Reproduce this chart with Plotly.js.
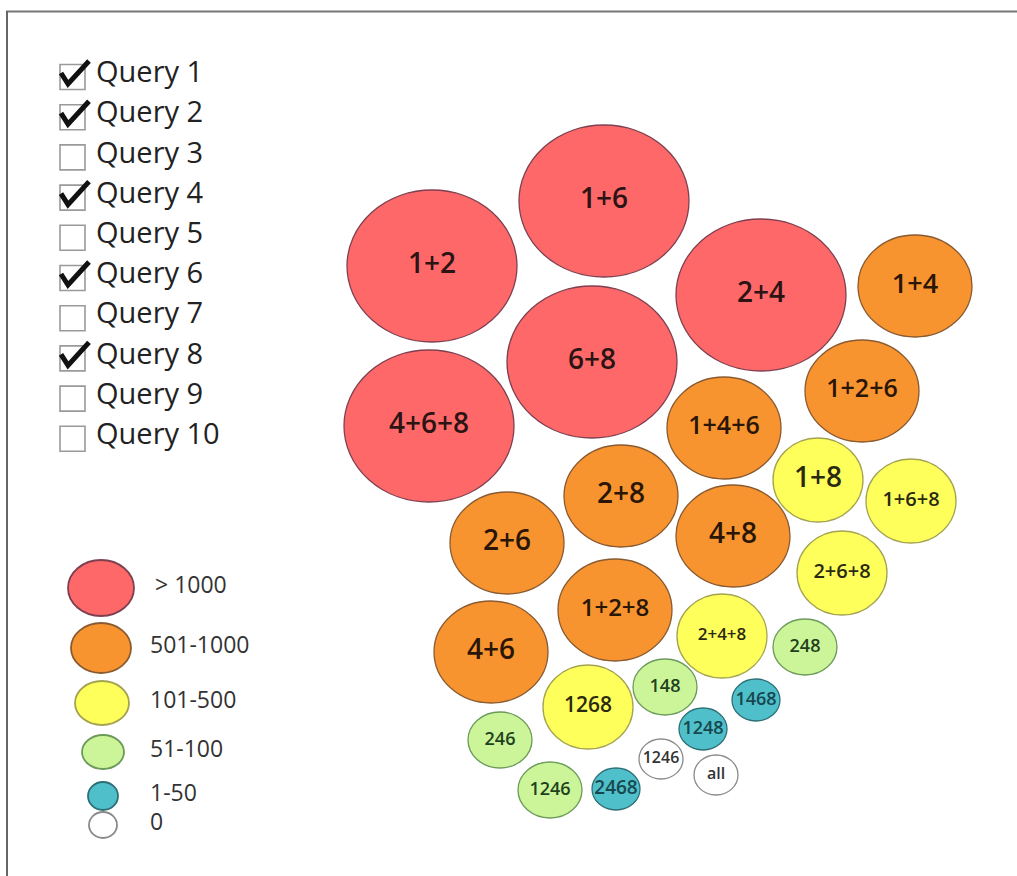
<!DOCTYPE html>
<html>
<head>
<meta charset="utf-8">
<script src="https://cdn.plot.ly/plotly-3.0.1.min.js"></script>
<style>
  html, body { margin: 0; padding: 0; background: #ffffff; }
  #chart { width: 1017px; height: 876px; }
</style>
</head>
<body>
<div id="chart"></div>
<script>
// ---------- DATA ----------
// Query selection panel
const queryNames = ['Query 1','Query 2','Query 3','Query 4','Query 5','Query 6','Query 7','Query 8','Query 9','Query 10'];
const queryChecked = [true, true, false, true, false, true, false, true, false, false];

// Count classes (legend)
const classNames = ['> 1000', '501-1000', '101-500', '51-100', '1-50', '0'];

// Bubbles: query combination label and its count class (index into classNames)
const bubbleLabels = ['1+2','1+6','2+4','6+8','4+6+8',
                      '1+4','1+2+6','1+4+6','2+8','2+6','4+8','1+2+8','4+6',
                      '1+8','1+6+8','2+6+8','2+4+8','1268',
                      '248','148','246','1246',
                      '1468','1248','2468',
                      '1246','all'];
const bubbleClass  = [0,0,0,0,0,
                      1,1,1,1,1,1,1,1,
                      2,2,2,2,2,
                      3,3,3,3,
                      4,4,4,
                      5,5];

// ---------- LAYOUT / STYLE (positions of the packed bubbles, in page pixels) ----------
const bubbleX = [432,604,761,592,429,
                 915,862,724,621,507,733,615,491,
                 818,911,842,722,588,
                 805,665,500,550,
                 756,703,616,
                 661,716];
const bubbleY = [266,201,295,362,426,
                 286,391,428,496,543,536,610,652,
                 480,501,573,636,707,
                 647,687,740,790,
                 700,729,789,
                 759,775];
const labelSize = [28,28,28,28,28,
                   27,25,25,28,28,28,24,28,
                   28,20,20,17,21,
                   18,18,18,18,
                   18,18,19,
                   16,16];

const classFill   = ['#ff6868', '#f8942f', '#ffff5c', '#ccf59a', '#4fc0c9', '#ffffff'];
const classLine   = ['#7e4050', '#8a5a30', '#a3a350', '#6c9a58', '#2e6f76', '#8a8a8a'];
const classText   = ['#2a1414', '#2a1606', '#2a2a10', '#22401c', '#17474f', '#333333'];
const classRx     = [85, 57, 45, 32, 24, 22];
const classRy     = [76, 51, 42, 28, 21, 20];

const legendX  = [101, 101, 102, 103, 103, 103];
const legendY  = [588, 648, 703, 752, 796, 825];
const legendRx = [33, 30, 27, 21, 15, 14];
const legendRy = [28, 25, 22, 17, 14, 13];
const legendLabelX = [155, 150, 150, 150, 150, 150];

const queryTop = 75, queryStep = 40.2;

// ---------- BUILD ----------
const shapes = [];
// frame lines
shapes.push({type:'line', xref:'x', yref:'y', x0:6, x1:1017, y0:11.5, y1:11.5, line:{color:'#777', width:2}});
shapes.push({type:'line', xref:'x', yref:'y', x0:7, x1:7, y0:11, y1:876, line:{color:'#666', width:2}});

// bubbles
for (let i = 0; i < bubbleLabels.length; i++) {
  const c = bubbleClass[i];
  shapes.push({type:'circle', xref:'x', yref:'y', layer:'below',
    x0: bubbleX[i]-classRx[c], x1: bubbleX[i]+classRx[c],
    y0: bubbleY[i]-classRy[c], y1: bubbleY[i]+classRy[c],
    fillcolor: classFill[c], line:{color: classLine[c], width:1.3}});
}
// legend ellipses
for (let k = 0; k < classNames.length; k++) {
  shapes.push({type:'circle', xref:'x', yref:'y', layer:'below',
    x0: legendX[k]-legendRx[k], x1: legendX[k]+legendRx[k],
    y0: legendY[k]-legendRy[k], y1: legendY[k]+legendRy[k],
    fillcolor: classFill[k], line:{color: classLine[k], width:1.8}});
}
// checkboxes
const qy = queryNames.map((_, i) => queryTop + queryStep*i);
for (let i = 0; i < queryNames.length; i++) {
  const bc = qy[i] + 2;
  shapes.push({type:'rect', xref:'x', yref:'y', layer:'below',
    x0: 60, x1: 85, y0: bc-12.5, y1: bc+12.5,
    fillcolor:'rgba(0,0,0,0)', line:{color:'#9a9a9a', width:1.6}});
  if (queryChecked[i]) {
    shapes.push({type:'path', xref:'x', yref:'y',
      path: `M ${61} ${bc-4} L ${68} ${bc+7} L ${89} ${bc-16}`,
      line:{color:'#111', width:5}});
  }
}

const traces = [
  { // bubble labels
    type:'scatter', mode:'text', x: bubbleX, y: bubbleY, text: bubbleLabels,
    textposition:'middle center', hoverinfo:'none',
    textfont:{family:'Open Sans, sans-serif', size: labelSize, weight: 600,
              color: bubbleClass.map(c => classText[c])}
  },
  { // legend labels
    type:'scatter', mode:'text', x: legendLabelX, y: legendY.map(v => v - 1), text: classNames,
    textposition:'middle right', hoverinfo:'none',
    textfont:{family:'Open Sans, sans-serif', size:23, color:'#333'}
  },
  { // query labels
    type:'scatter', mode:'text', x: queryNames.map(() => 96), y: qy, text: queryNames,
    textposition:'middle right', hoverinfo:'none',
    textfont:{family:'Open Sans, sans-serif', size:29, color:'#222'}
  }
];

const layout = {
  width:1017, height:876,
  margin:{l:0, r:0, t:0, b:0, pad:0},
  paper_bgcolor:'#ffffff', plot_bgcolor:'#ffffff',
  showlegend:false,
  xaxis:{range:[0,1017], visible:false, fixedrange:true},
  yaxis:{range:[876,0], visible:false, fixedrange:true},
  shapes: shapes
};

Plotly.newPlot('chart', traces, layout, {staticPlot:true, displayModeBar:false});
</script>
</body>
</html>
